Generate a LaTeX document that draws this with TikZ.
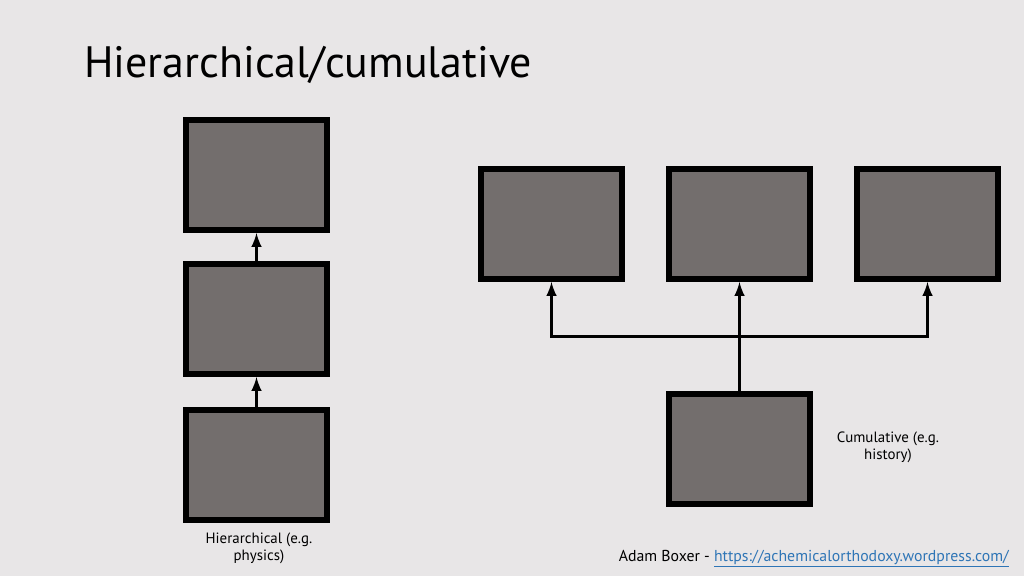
\documentclass[tikz,border=0pt]{standalone}
\usepackage{fontspec}
\setmainfont{PT Sans}
\definecolor{bg}{HTML}{E8E6E7}
\definecolor{boxgrey}{HTML}{736E6D}
\definecolor{linkblue}{HTML}{2E75B6}
\begin{document}
\begin{tikzpicture}
		[x=0.02cm,y=-0.02cm,
		box/.style={rectangle,draw=black,fill=boxgrey,line width=1.2mm,minimum width=2.82cm,minimum height=2.2cm},
		link/.style={-latex,line width=0.6mm},
		plain/.style={draw=none,fill=none,font=\fontsize{8.5}{9.5}\selectfont,align=center}
		]
		\fill[bg] (0,0) rectangle (1024,576);
		\node[anchor=base west,font=\fontsize{25}{30}\selectfont] (title) at (78,77){Hierarchical/cumulative};

		\node[box] (h3) at (256.5,175){};
		\node[box] (h2) at (256.5,319){};
		\node[box] (h1) at (256.5,465){};

		\node[box] (c1) at (551.5,224){};
		\node[box] (c2) at (739.5,224){};
		\node[box] (c3) at (927.5,224){};
		\node[box] (base) at (739.5,449){};

\draw[link] (h1.north) -- (h2.south);
\draw[link] (h2.north) -- (h3.south);
\coordinate (fork) at (739.5,336);
\draw[link] (base.north) -- (c2.south);
\draw[link] (fork) -| (c1.south);
\draw[link] (fork) -| (c3.south);

\node[plain] (hlab) at (259,548){Hierarchical (e.g.\\physics)};
\node[plain] (clab) at (888,447){Cumulative (e.g.\\history)};
\node[anchor=base east,font=\fontsize{9}{10}\selectfont] (credit) at (1015,561){Adam Boxer - \textcolor{linkblue}{\underline{https://achemicalorthodoxy.wordpress.com/}}};
	\end{tikzpicture}
\end{document}
